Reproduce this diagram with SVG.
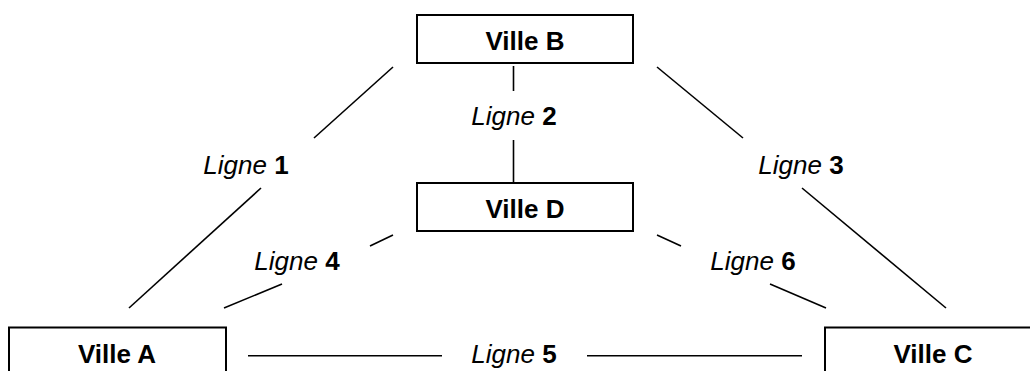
<svg xmlns="http://www.w3.org/2000/svg" width="1030" height="371" viewBox="0 0 1030 371">
  <style>
    .box { fill: #ffffff; stroke: #000000; stroke-width: 2; }
    .name { font-family: "Liberation Sans", Arial, sans-serif; font-size: 26px; font-weight: bold; fill: #000000; text-anchor: middle; }
    .link { stroke: #000000; stroke-width: 1.6; fill: none; }
    .label { font-family: "Liberation Sans", Arial, sans-serif; font-size: 26px; font-style: italic; fill: #000000; text-anchor: middle; }
    .label tspan { font-style: normal; font-weight: bold; }
  </style>
  <rect width="1030" height="371" fill="#ffffff"/>

  <!-- rail lines between cities, each split around its label -->
  <g id="connectors">
    <!-- Ligne 1 : A - B -->
    <line class="link" x1="393" y1="67" x2="314" y2="138"/>
    <line class="link" x1="261" y1="188" x2="129" y2="308"/>
    <text class="label" x="246" y="174">Ligne <tspan>1</tspan></text>
    <!-- Ligne 2 : B - D -->
    <line class="link" x1="513.5" y1="66" x2="513.5" y2="91"/>
    <line class="link" x1="513.5" y1="140" x2="513.5" y2="183"/>
    <text class="label" x="514" y="125">Ligne <tspan>2</tspan></text>
    <!-- Ligne 3 : B - C -->
    <line class="link" x1="657" y1="67" x2="743" y2="138"/>
    <line class="link" x1="802" y1="188" x2="946" y2="308"/>
    <text class="label" x="801" y="174">Ligne <tspan>3</tspan></text>
    <!-- Ligne 4 : A - D -->
    <line class="link" x1="393" y1="235" x2="370" y2="246"/>
    <line class="link" x1="282" y1="284" x2="224" y2="308"/>
    <text class="label" x="297" y="270">Ligne <tspan>4</tspan></text>
    <!-- Ligne 5 : A - C -->
    <line class="link" x1="248" y1="355.7" x2="442" y2="355.7"/>
    <line class="link" x1="587" y1="355.7" x2="802" y2="355.7"/>
    <text class="label" x="514" y="363">Ligne <tspan>5</tspan></text>
    <!-- Ligne 6 : D - C -->
    <line class="link" x1="657" y1="235" x2="681" y2="246"/>
    <line class="link" x1="770" y1="284" x2="826" y2="308"/>
    <text class="label" x="753" y="270">Ligne <tspan>6</tspan></text>
  </g>

  <g id="ville-b">
    <rect class="box" x="417" y="15" width="216" height="48"/>
    <text class="name" x="525" y="50">Ville B</text>
  </g>
  <g id="ville-d">
    <rect class="box" x="417" y="183" width="216" height="48"/>
    <text class="name" x="525" y="218">Ville D</text>
  </g>
  <g id="ville-a">
    <rect class="box" x="9" y="327.5" width="217" height="48"/>
    <text class="name" x="117" y="363">Ville A</text>
  </g>
  <g id="ville-c">
    <rect class="box" x="825" y="327.5" width="217" height="48"/>
    <text class="name" x="933" y="363">Ville C</text>
  </g>
</svg>
